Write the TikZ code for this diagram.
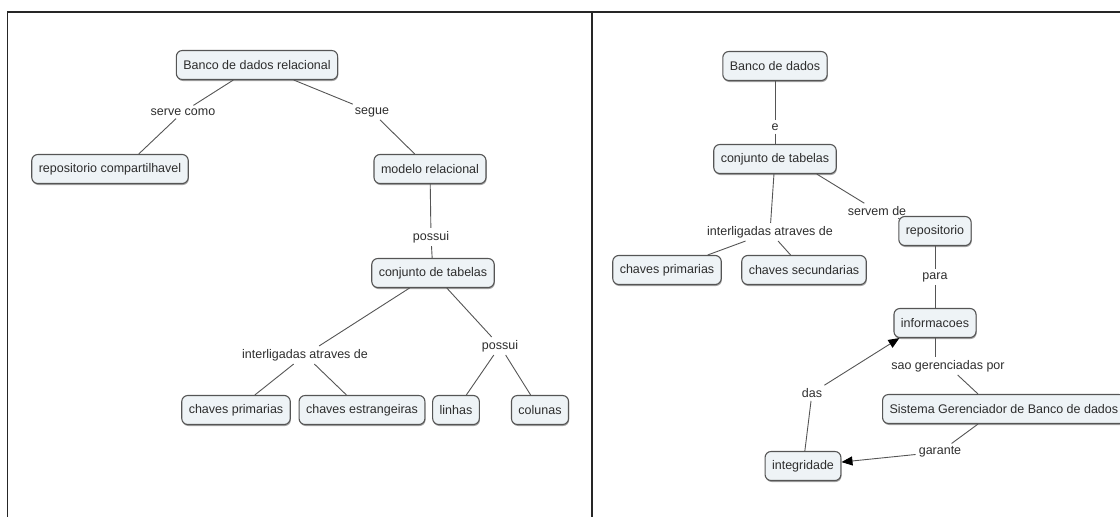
\documentclass[tikz,border=0pt]{standalone}
\usepackage{fontspec}
\setmainfont{Liberation Sans}
\usetikzlibrary{arrows.meta,shadows}
\definecolor{conceptfill}{RGB}{238,243,246}
\definecolor{edgegray}{RGB}{85,85,85}
\definecolor{txtgray}{RGB}{45,45,45}
\begin{document}
\begin{tikzpicture}[x=1pt,y=-1pt,
  concept/.style={draw=edgegray, line width=1.1pt, rounded corners=6pt,
    fill=conceptfill, minimum height=29pt, inner xsep=7pt,
    font=\fontsize{12.5}{14}\selectfont, text=txtgray,
    drop shadow={shadow xshift=0.6pt, shadow yshift=-1.5pt, fill=black!60, opacity=0.6}},
  linkphrase/.style={inner sep=3pt, font=\fontsize{12.5}{14}\selectfont, text=txtgray},
  link/.style={draw=edgegray, line width=0.9pt},
  arrowlink/.style={link, -{Triangle[length=11pt,width=9pt,fill=black,color=black]}},
  frame/.style={draw=black!85, line width=1.5pt}]
\useasboundingbox (0,0) rectangle (1120,517);

% outer frame and the divider between the two maps
\draw[frame] (7.5,517) -- (7.5,12) -- (1120,12);
\draw[frame] (592,12) -- (592,517);

% ---- left map: banco de dados relacional ----
\node[concept] (bdr) at (257,65) {Banco de dados relacional};
\node[linkphrase] (servecomo) at (183,112) {serve como};
\node[linkphrase] (segue) at (372,112) {segue};
\node[concept] (repc) at (110,169) {repositorio compartilhavel};
\node[concept] (modrel) at (430,169) {modelo relacional};
\node[linkphrase] (possuiA) at (431,237) {possui};
\node[concept] (conjA) at (433,273) {conjunto de tabelas};
\node[linkphrase] (interA) at (305,355) {interligadas atraves de};
\node[linkphrase] (possuiB) at (500,346) {possui};
\node[concept] (chpA) at (236,410) {chaves primarias};
\node[concept] (chest) at (362,410) {chaves estrangeiras};
\node[concept] (linhas) at (456,410) {linhas};
\node[concept] (colunas) at (540,410) {colunas};

\draw[link] (bdr) -- (servecomo);
\draw[link] (servecomo) -- ([xshift=-50pt]repc.north east);
\draw[link] (bdr) -- (segue);
\draw[link] (segue) -- (modrel);
\draw[link] (modrel) -- (possuiA);
\draw[link] (possuiA) -- (conjA);
\draw[link] (conjA) -- (interA);
\draw[link] (interA) -- (chpA);
\draw[link] (interA) -- (chest);
\draw[link] (conjA) -- (possuiB);
\draw[link] (possuiB) -- (linhas);
\draw[link] (possuiB) -- (colunas);

% ---- right map: banco de dados ----
\node[concept] (bd) at (775,66) {Banco de dados};
\node[linkphrase] (e) at (775,127) {e};
\node[concept] (conjB) at (775,159) {conjunto de tabelas};
\node[linkphrase] (servem) at (877,211) {servem de};
\node[linkphrase] (interB) at (770,232) {interligadas atraves de};
\node[concept] (repo) at (935,231) {repositorio};
\node[concept] (chpB) at (667,270) {chaves primarias};
\node[concept] (chsec) at (804,270) {chaves secundarias};
\node[linkphrase] (para) at (935,277) {para};
\node[concept] (info) at (935,323) {informacoes};
\node[linkphrase] (saoger) at (948,366) {sao gerenciadas por};
\node[linkphrase] (das) at (812,393) {das};
\node[concept, anchor=west] (sgbd) at (882,409) {Sistema Gerenciador de Banco de dados};
\node[linkphrase] (garante) at (940,452) {garante};
\node[concept] (integ) at (803,466) {integridade};

\draw[link] (bd) -- (e);
\draw[link] (e) -- (conjB);
\draw[link] ([xshift=-20pt]conjB.south east) -- (servem);
\draw[link] (servem) -- (repo);
\draw[link] (conjB) -- (interB);
\draw[link] (interB) -- (chpB);
\draw[link] (interB) -- (chsec);
\draw[link] (repo) -- (para);
\draw[link] (para) -- (info);
\draw[link] (info.south) -- (info.south |- saoger.north);
\draw[link] (saoger) -- ([xshift=96pt]sgbd.north west);
\draw[link] ([xshift=96pt]sgbd.south west) -- (garante);
\draw[arrowlink] (garante) -- (integ);
\draw[link] (integ) -- (das);
\draw[arrowlink] (das) -- ([xshift=6pt]info.south west);
\end{tikzpicture}
\end{document}
